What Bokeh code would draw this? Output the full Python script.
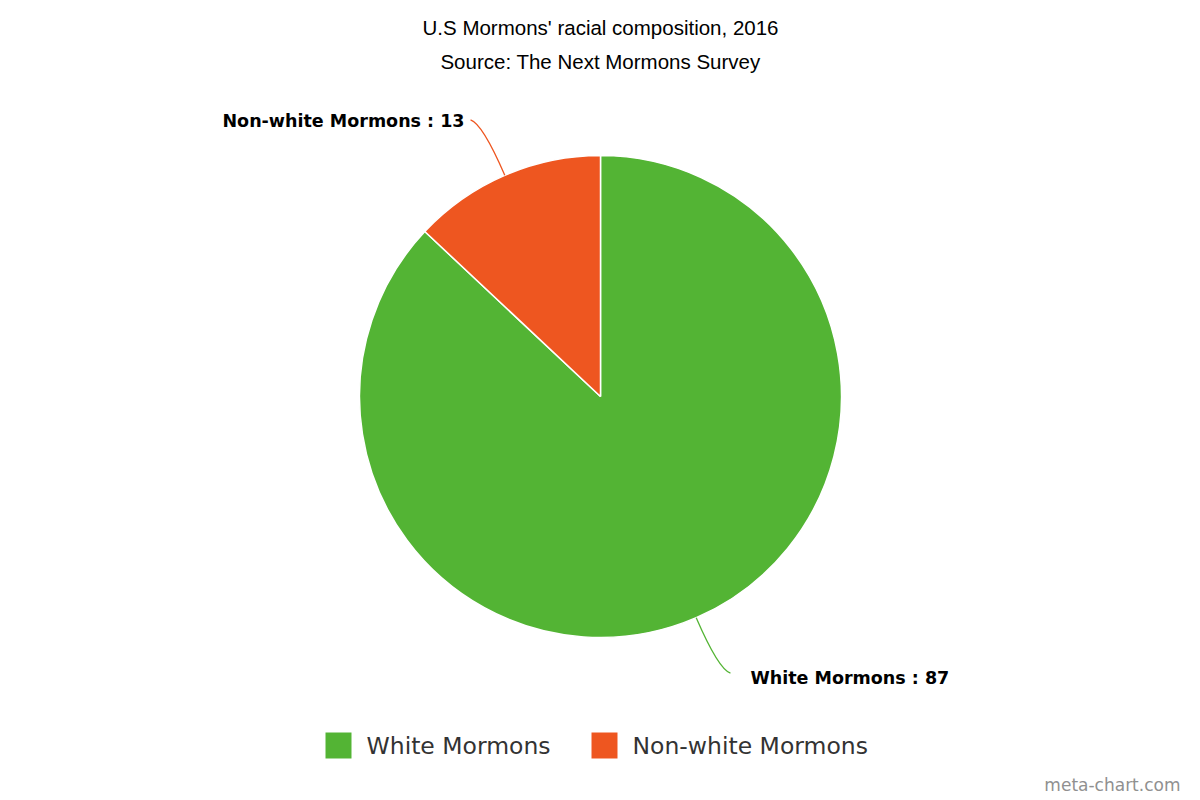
import math
from bokeh.plotting import figure
from bokeh.models import Range1d, ColumnDataSource
from bokeh.core.properties import value
from bokeh.embed import file_html
from bokeh.resources import INLINE

categories = ["White Mormons", "Non-white Mormons"]
values = [87, 13]
colors = ["#53b434", "#ee5620"]
title_lines = ["U.S Mormons' racial composition, 2016", "Source: The Next Mormons Survey"]
credit = "meta-chart.com"

W, H = 1200, 800
p = figure(width=W, height=H, x_range=Range1d(0, W), y_range=Range1d(0, H),
           output_backend="svg", toolbar_location=None, min_border=0)
p.axis.visible = False
p.grid.visible = False
p.outline_line_color = None
p.background_fill_color = "white"

def Y(y):
    return H - y

cx, cy, r = 600, 396, 241
total = sum(values)
starts, ends, mids = [], [], []
acc = 0
for v in values:
    a0 = math.pi / 2 - acc / total * 2 * math.pi
    acc += v
    a1 = math.pi / 2 - acc / total * 2 * math.pi
    starts.append(a0); ends.append(a1); mids.append((a0 + a1) / 2)

src = ColumnDataSource(dict(x=[cx] * len(values), y=[Y(cy)] * len(values),
                            start=starts, end=ends, color=colors))
p.wedge(x="x", y="y", radius=r, start_angle="start", end_angle="end",
        direction="clock", fill_color="color", line_color="white", line_width=1.5, source=src)

# data labels with curved connectors
for i, (cat, v) in enumerate(zip(categories, values)):
    a = mids[i]
    x0 = cx + r * math.cos(a); y0 = cy - r * math.sin(a)
    x1 = cx + (r + 56) * math.cos(a); y1 = cy - (r + 56) * math.sin(a)
    right = math.cos(a) >= 0
    dx = 1 if right else -1
    down = 1 if y1 > cy else -1
    x2 = x1 + dx * 12; y2 = y1 + down * 4
    p.quadratic(x0=[x0], y0=[Y(y0)], x1=[x2], y1=[Y(y2)], cx=[x1], cy=[Y(y1)],
                line_color=colors[i], line_width=1.3)
    lx = x2 + 20 if right else x2 - 6
    ly = y2 + 5 if right else y2 + 1
    p.text([lx], [Y(ly)], text=[f"{cat} : {v}"], text_font=value("DejaVu Sans"),
           text_font_style="bold", text_font_size="17.5px", text_color="#000000",
           text_align="left" if right else "right", text_baseline="middle")

# title
p.text([600, 600], [Y(27), Y(61)], text=title_lines, text_font=value("Liberation Sans"),
       text_font_size="20.5px", text_color="#000000", text_align="center", text_baseline="middle")

# legend
lx0 = 325
leg_y = 745
offs = [0, 266]
for i, cat in enumerate(categories):
    x = lx0 + offs[i]
    p.rect([x + 13], [Y(leg_y)], width=26, height=26, fill_color=colors[i], line_color=None)
    p.text([x + 41], [Y(leg_y)], text=[cat], text_font=value("DejaVu Sans"),
           text_font_size="23.5px", text_color="#333333", text_align="left", text_baseline="middle")

# credit
p.text([1180], [Y(784)], text=[credit], text_font=value("DejaVu Sans"),
       text_font_size="17px", text_color="#909090", text_align="right", text_baseline="middle")

open("out.html", "w").write(file_html(p, INLINE))
